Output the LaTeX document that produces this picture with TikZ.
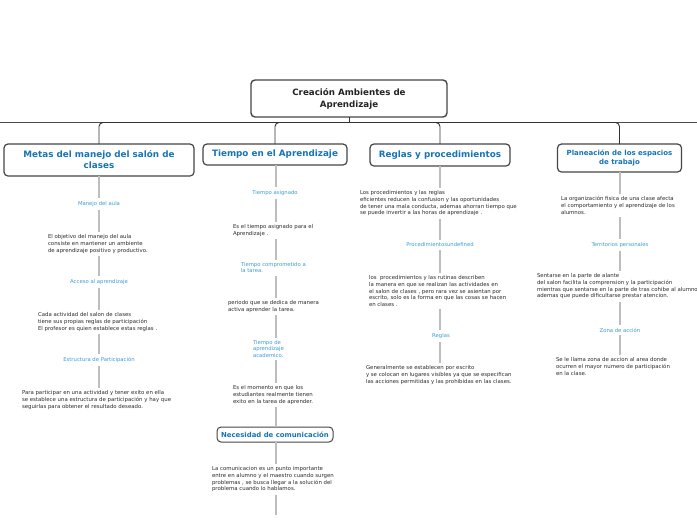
\documentclass[tikz,border=0pt]{standalone}
\usepackage{fontspec}
\setmainfont{DejaVu Sans}
\definecolor{titleblue}{RGB}{22,116,182}
\definecolor{labelblue}{RGB}{60,158,210}
\definecolor{bodygray}{RGB}{45,45,45}
\definecolor{boxline}{RGB}{70,70,70}
\definecolor{connline}{RGB}{190,190,190}
\tikzset{
  rootbox/.style={draw=boxline, line width=1.4pt, rounded corners=4pt, fill=white, align=center,
    text=bodygray!80!black, font=\fontsize{8.7}{12}\selectfont\bfseries, inner sep=0pt, outer sep=0pt},
  topicbox/.style={draw=boxline, line width=1.2pt, rounded corners=4pt, fill=white, align=center,
    text=titleblue, font=\fontsize{8.8}{11}\selectfont\bfseries, inner sep=0pt, outer sep=0pt},
  lbl/.style={text=labelblue, font=\fontsize{5.3}{6.6}\selectfont, inner sep=0pt, outer sep=3pt, align=center},
  lblL/.style={text=labelblue, font=\fontsize{5.3}{6.4}\selectfont, inner sep=0pt, outer sep=3pt, align=left, anchor=north west},
  body/.style={text=bodygray, font=\fontsize{5.4}{6.7}\selectfont, inner sep=0pt, outer sep=3pt, align=left, anchor=north west},
  conn/.style={draw=connline, line width=1.8pt},
  busline/.style={draw=black!80, line width=0.9pt},
}
\begin{document}
\begin{tikzpicture}[x=1pt,y=-1pt]
\useasboundingbox (0,0) rectangle (697,520);
\fill[white] (0,0) rectangle (697,520);

% column axes
\coordinate (c1) at (99,0);
\coordinate (c2) at (276,0);
\coordinate (c3) at (440,0);
\coordinate (c4) at (620,0);
\coordinate (busL) at (0,122.5);
\coordinate (busR) at (697,122.5);

% root and topics
\node[rootbox, minimum width=196pt, minimum height=37pt] (root) at (349,98.5) {Creación Ambientes de\\Aprendizaje};
\node[topicbox, minimum width=190pt, minimum height=32pt] (m1) at (99,160) {Metas del manejo del salón de\\clases};
\node[topicbox, minimum width=144pt, minimum height=21pt] (m2) at (275,154.5) {Tiempo en el Aprendizaje};
\node[topicbox, minimum width=140pt, minimum height=22pt] (m3) at (440,155) {Reglas y procedimientos};
\node[topicbox, minimum width=124pt, minimum height=28pt, font=\fontsize{7}{8.5}\selectfont\bfseries] (m4) at (619.5,158) {Planeación de los espacios\\de trabajo};

% tree bus
\draw[draw=black!70, line width=0.8pt] (busL) -- (busR);
\draw[busline] (root.south) -- (root.south |- busL);
\draw[busline, rounded corners=4pt] (m1.north) -- (m1.north |- busL) -- (m4.north |- busL) -- (m4.north);
\draw[busline, rounded corners=4pt] (m2.north) -- (m2.north |- busL) -- (c3 |- busL);
\draw[busline, rounded corners=4pt] (m3.north) -- (m3.north |- busL) -- (c2 |- busL);

% column 1
\node[lbl] (l11) at (99,204) {Manejo del aula};
\node[body] (t11) at (45,231.5) {El objetivo del manejo del aula\\consiste en mantener un ambiente\\de aprendizaje positivo y productivo.};
\node[lbl] (l12) at (99,282) {Acceso al aprendizaje};
\node[body] (t12) at (35,309.5) {Cada actividad del salon de clases\\tiene sus propias reglas de participación\\El profesor es quien establece estas reglas .};
\node[lbl] (l13) at (99,360) {Estructura de Participación};
\node[body] (t13) at (19,387.5) {Para participar en una actividad y tener exito en ella\\se establece una estructura de participación y hay que\\seguirlas para obtener el resultado deseado.};

% column 2
\node[lbl] (l21) at (275,193) {Tiempo asignado};
\node[body] (t21) at (230,221.5) {Es el tiempo asignado para el\\Aprendizaje .};
\node[lblL] (l22) at (238,259.5) {Tiempo comprometido a\\la tarea.};
\node[body] (t22) at (225,297.5) {periodo que se dedica de manera\\activa aprender la tarea.};
\node[lblL] (l23) at (250,337.5) {Tiempo de\\aprendizaje\\academico.};
\node[body] (t23) at (230,382.5) {Es el momento en que los\\estudiantes realmente tienen\\exito en la tarea de aprender.};
\node[topicbox, minimum width=116pt, minimum height=15pt, line width=1pt, font=\fontsize{6.9}{8}\selectfont\bfseries] (m5) at (275,434.5) {Necesidad de comunicación};
\node[body] (t24) at (209,463.5) {La comunicacion es un punto importante\\entre en alumno y el maestro cuando surgen\\problemas , se busca llegar a la solución del\\problema cuando lo hablamos.};
\coordinate (end2) at (276,515);

% column 3
\node[body] (t31) at (357,187.5) {Los procedimientos y las reglas\\eficientes reducen la confusion y las oportunidades\\de tener una mala conducta, ademas ahorran tiempo que\\se puede invertir a las horas de aprendizaje .};
\node[lbl] (l31) at (440,245) {Procedimientosundefined};
\node[body] (t32) at (366,272.5) {los\ \ procedimientos y las rutinas describen\\la manera en que se realizan las actividades en\\el salon de clases , pero rara vez se asientan por\\escrito, solo es la forma en que las cosas se hacen\\en clases .};
\node[lbl] (l32) at (441,336) {Reglas};
\node[body] (t33) at (363,362.5) {Generalmente se establecen por escrito\\y se colocan en lugares visibles ya que se especifican\\las acciones permitidas y las prohibidas en las clases.};

% column 4
\node[body] (t41) at (558,193.5) {La organización fisica de una clase afecta\\el comportamiento y el aprendizaje de los\\alumnos.};
\node[lbl] (l41) at (620,245) {Territorios personales};
\node[body] (t42) at (534,270.5) {Sentarse en la parte de alante\\del salon facilita la comprension y la participación\\mientras que sentarse en la parte de tras cohibe al alumno\\ademas que puede dificultarse prestar atencion.};
\node[lbl] (l42) at (620,330) {Zona de acción};
\node[body] (t43) at (553,354.5) {Se le llama zona de accion al area donde\\ocurren el mayor numero de participación\\en la clase.};

% connectors
\foreach \a/\b in {m1/l11,l11/t11,t11/l12,l12/t12,t12/l13,l13/t13}
  \draw[conn] (\a.south -| c1) -- (\b.north -| c1);
\foreach \a/\b in {m2/l21,l21/t21,t21/l22,l22/t22,t22/l23,l23/t23,t23/m5,m5/t24}
  \draw[conn] (\a.south -| c2) -- (\b.north -| c2);
\draw[conn] (t24.south -| c2) -- (end2);
\foreach \a/\b in {m3/t31,t31/l31,l31/t32,t32/l32,l32/t33}
  \draw[conn] (\a.south -| c3) -- (\b.north -| c3);
\foreach \a/\b in {m4/t41,t41/l41,l41/t42,t42/l42,l42/t43}
  \draw[conn] (\a.south -| c4) -- (\b.north -| c4);
\end{tikzpicture}
\end{document}
